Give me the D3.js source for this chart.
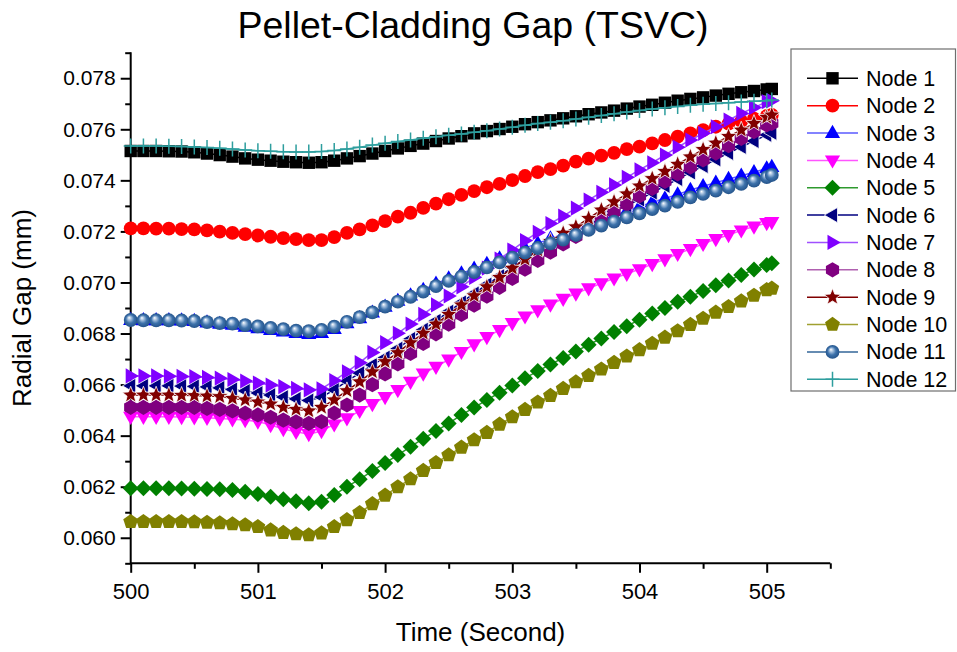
<!DOCTYPE html>
<html>
<head>
<meta charset="utf-8">
<script src="https://cdn.jsdelivr.net/npm/d3@7"></script>
<style>
  html, body { margin: 0; padding: 0; background: #fff; }
  svg { display: block; }
  text { font-family: Arial, "Liberation Sans", sans-serif; fill: #000; }
</style>
</head>
<body>
<svg id="chart" width="957" height="652"></svg>
<script>
// Time stamps (s): 0.1 s steps from 500.0 to 505.0, plus the final step
const times = d3.range(0, 51).map(i => 500 + i / 10).concat([505.04]);

// Radial gap per axial node, in units of 1e-5 mm
const node1 = [7515,7515,7515,7514,7513,7510,7505,7499,7493,7486,7481,7477,7473,7471,7469,7471,7477,7486,7495,7505,7515,7525,7535,7544,7554,7564,7573,7584,7593,7601,7610,7620,7628,7635,7643,7651,7659,7666,7673,7681,7689,7696,7704,7712,7719,7725,7732,7739,7745,7750,7756,7758];
const node2 = [7212,7212,7211,7211,7209,7208,7204,7199,7194,7189,7184,7179,7174,7170,7166,7166,7178,7194,7208,7224,7240,7258,7273,7292,7309,7326,7343,7358,7373,7386,7401,7417,7432,7444,7458,7473,7485,7497,7508,7522,7532,7545,7558,7571,7584,7597,7610,7622,7632,7642,7652,7656];
const node3 = [6853,6852,6852,6852,6851,6849,6843,6838,6834,6827,6821,6814,6808,6802,6798,6802,6818,6840,6860,6882,6905,6928,6949,6971,6995,7016,7035,7054,7073,7094,7113,7134,7153,7172,7188,7207,7228,7246,7262,7280,7297,7314,7329,7345,7362,7377,7391,7405,7418,7432,7447,7452];
const node4 = [6474,6474,6474,6474,6473,6472,6470,6467,6464,6461,6455,6442,6426,6415,6406,6418,6444,6468,6497,6524,6551,6579,6611,6643,6670,6698,6728,6758,6786,6814,6841,6867,6891,6914,6936,6957,6977,6997,7016,7034,7052,7072,7091,7112,7131,7151,7170,7186,7204,7219,7233,7237];
const node5 = [6194,6194,6194,6194,6193,6192,6191,6190,6187,6180,6171,6161,6151,6143,6135,6141,6168,6200,6229,6262,6293,6324,6357,6388,6418,6448,6481,6510,6540,6568,6596,6625,6653,6679,6704,6730,6756,6781,6806,6829,6854,6878,6900,6924,6944,6967,6989,7008,7029,7051,7068,7075];
const node6 = [6595,6595,6595,6595,6594,6593,6591,6587,6581,6575,6567,6559,6551,6544,6538,6551,6579,6614,6645,6677,6706,6741,6779,6815,6850,6886,6922,6957,6992,7025,7059,7092,7123,7151,7174,7198,7225,7253,7278,7302,7325,7352,7378,7405,7431,7456,7482,7507,7531,7554,7578,7586];
const node7 = [6634,6634,6634,6633,6632,6631,6628,6625,6620,6614,6606,6598,6592,6585,6579,6583,6616,6650,6686,6726,6764,6801,6837,6875,6912,6947,6983,7020,7056,7092,7127,7164,7196,7231,7260,7291,7323,7353,7382,7412,7441,7469,7499,7530,7558,7584,7610,7636,7662,7685,7708,7712];
const node8 = [6511,6511,6511,6511,6511,6511,6507,6503,6497,6488,6481,6472,6461,6454,6448,6455,6488,6520,6559,6600,6642,6681,6722,6761,6799,6837,6875,6911,6946,6981,7016,7052,7086,7119,7151,7180,7211,7245,7277,7307,7339,7368,7396,7425,7452,7480,7507,7536,7564,7591,7617,7623];
const node9 = [6559,6559,6559,6559,6558,6557,6555,6553,6546,6540,6532,6524,6511,6503,6497,6511,6540,6576,6611,6650,6690,6725,6764,6801,6837,6875,6912,6948,6983,7020,7056,7091,7127,7161,7193,7218,7251,7284,7316,7347,7378,7407,7435,7463,7492,7521,7546,7572,7597,7623,7647,7656];
const node10 = [6063,6063,6063,6063,6063,6062,6060,6058,6054,6050,6043,6030,6020,6015,6011,6018,6043,6070,6098,6133,6166,6199,6230,6263,6294,6324,6354,6383,6412,6444,6473,6502,6531,6557,6584,6610,6635,6660,6686,6711,6736,6761,6785,6810,6835,6859,6883,6905,6927,6949,6971,6977];
const node11 = [6853,6852,6852,6852,6851,6849,6845,6841,6839,6833,6828,6822,6817,6811,6809,6814,6827,6846,6864,6883,6905,6925,6944,6964,6986,7006,7023,7041,7059,7079,7097,7117,7135,7153,7168,7186,7206,7223,7238,7255,7271,7287,7301,7316,7333,7347,7360,7373,7386,7399,7413,7421];
const node12 = [7535,7535,7535,7534,7533,7531,7529,7526,7523,7519,7516,7514,7512,7511,7511,7513,7517,7523,7530,7538,7545,7552,7558,7565,7571,7577,7582,7588,7594,7601,7608,7616,7623,7628,7633,7640,7647,7654,7661,7668,7674,7679,7684,7689,7694,7698,7701,7704,7707,7710,7712,7715];

const seriesNames = ["Node 1","Node 2","Node 3","Node 4","Node 5","Node 6","Node 7","Node 8","Node 9","Node 10","Node 11","Node 12"];
const seriesValues = [node1,node2,node3,node4,node5,node6,node7,node8,node9,node10,node11,node12];

const xTicks = [500, 501, 502, 503, 504, 505];
const yTicks = [0.060, 0.062, 0.064, 0.066, 0.068, 0.070, 0.072, 0.074, 0.076, 0.078];

// Marker fill, connecting line colour, marker shape, marker edge
const styles = [
  { fill: "#000000", line: "#000000", shape: "square" },
  { fill: "#ff0000", line: "#ff0000", shape: "circle" },
  { fill: "#0000ff", line: "#5a5aff", shape: "triUp" },
  { fill: "#ff00ff", line: "#ff55ff", shape: "triDown" },
  { fill: "#008000", line: "#2e9a2e", shape: "diamond" },
  { fill: "#000080", line: "#000080", shape: "triLeft", edge: "#ffffff" },
  { fill: "#8000ff", line: "#a050ff", shape: "triRight" },
  { fill: "#800080", line: "#b060b0", shape: "hexagon" },
  { fill: "#800000", line: "#800000", shape: "star", edge: "#ffffff" },
  { fill: "#808000", line: "#a0a030", shape: "pentagon" },
  { fill: "url(#sphere)", line: "#336699", shape: "circle" },
  { fill: "none", line: "#2e9e9e", shape: "plus", stroke: "#2e9e9e" }
];

const svg = d3.select("#chart");
const margin = { left: 130.7, right: 957 - 830.3, top: 52.7, bottom: 652 - 563.3 };
const W = 957 - margin.left - margin.right;
const H = 652 - margin.top - margin.bottom;

const x = d3.scaleLinear().domain([500, 505.5]).range([margin.left, margin.left + W]);
const y = d3.scaleLinear().domain([0.059, 0.079]).range([margin.top + H, margin.top]);

// Shaded sphere marker
const defs = svg.append("defs");
const grad = defs.append("radialGradient").attr("id", "sphere")
  .attr("cx", "0.5").attr("cy", "0.5").attr("r", "0.5")
  .attr("fx", "0.38").attr("fy", "0.32");
grad.append("stop").attr("offset", "0").attr("stop-color", "#ffffff");
grad.append("stop").attr("offset", "0.25").attr("stop-color", "#a9c3e0");
grad.append("stop").attr("offset", "0.6").attr("stop-color", "#3d72ab");
grad.append("stop").attr("offset", "1").attr("stop-color", "#24538a");

function polygon(n, r, rot) {
  const pts = d3.range(n).map(k => {
    const a = rot + k * 2 * Math.PI / n;
    return [r * Math.cos(a), r * Math.sin(a)];
  });
  return "M" + pts.map(p => p[0].toFixed(2) + "," + p[1].toFixed(2)).join("L") + "Z";
}
function starPath(ro, ri) {
  const pts = d3.range(10).map(k => {
    const a = -Math.PI / 2 + k * Math.PI / 5;
    const r = k % 2 ? ri : ro;
    return [r * Math.cos(a), r * Math.sin(a)];
  });
  return "M" + pts.map(p => p[0].toFixed(2) + "," + p[1].toFixed(2)).join("L") + "Z";
}
const shapes = {
  square: "M-6.2,-6.2H6.2V6.2H-6.2Z",
  circle: d3.symbol(d3.symbolCircle, Math.PI * 6.9 * 6.9)(),
  triUp: "M0,-8.2L7.6,5L-7.6,5Z",
  triDown: "M0,8.2L7.6,-5L-7.6,-5Z",
  triLeft: "M-8.2,0L5,-7.6L5,7.6Z",
  triRight: "M8.2,0L-5,-7.6L-5,7.6Z",
  diamond: "M0,-8L8,0L0,8L-8,0Z",
  hexagon: polygon(6, 7.6, -Math.PI / 2),
  pentagon: polygon(5, 7.8, -Math.PI / 2),
  star: starPath(8.8, 3.8),
  plus: "M-7,0H7M0,-7.5V7.5"
};

// Axes: left and bottom only, outward ticks
const gx = svg.append("g").attr("transform", `translate(0,${margin.top + H})`);
gx.call(d3.axisBottom(x).tickValues(xTicks).tickFormat(d3.format("d")).tickSize(9.5).tickPadding(11));
gx.append("g").call(d3.axisBottom(x).tickValues(d3.range(500.5, 505.6, 1)).tickSize(5.5).tickFormat(""));
const gy = svg.append("g").attr("transform", `translate(${margin.left},0)`);
gy.call(d3.axisLeft(y).tickValues(yTicks).tickFormat(d3.format(".3f")).tickSize(10).tickPadding(5));
gy.append("g").call(d3.axisLeft(y).tickValues(d3.range(0.059, 0.0795, 0.002)).tickSize(5.5).tickFormat(""));
svg.selectAll(".domain").remove();
svg.selectAll(".tick line").attr("stroke", "#000").attr("stroke-width", 2);
gx.selectAll(".tick text").style("font-size", "22px").attr("fill", "#000");
gy.selectAll(".tick text").style("font-size", "21px").attr("fill", "#000");
svg.append("line").attr("x1", margin.left).attr("x2", margin.left + W)
  .attr("y1", margin.top + H).attr("y2", margin.top + H).attr("stroke", "#000").attr("stroke-width", 2);
svg.append("line").attr("x1", margin.left).attr("x2", margin.left)
  .attr("y1", margin.top - 0.5).attr("y2", margin.top + H + 1).attr("stroke", "#000").attr("stroke-width", 2);

// Series: connecting line then markers, plot by plot
const plotArea = svg.append("g");
seriesValues.forEach((vals, si) => {
  const st = styles[si];
  const pts = vals.map((v, i) => [times[i], v * 1e-5]);
  const g = plotArea.append("g").attr("class", "series");
  g.append("path")
    .attr("d", d3.line().x(d => x(d[0])).y(d => y(d[1]))(pts))
    .attr("fill", "none").attr("stroke", st.line).attr("stroke-width", 1.5);
  g.selectAll("path.m").data(pts).join("path").attr("class", "m")
    .attr("transform", d => `translate(${x(d[0])},${y(d[1])})`)
    .attr("d", shapes[st.shape])
    .attr("fill", st.fill)
    .attr("stroke", st.shape === "plus" ? st.stroke : (st.edge || "none"))
    .attr("stroke-width", st.shape === "plus" ? 1.5 : (st.edge ? 0.8 : 0));
});

// Title and axis titles
svg.append("text").attr("x", 473).attr("y", 38).attr("text-anchor", "middle")
  .style("font-size", "37.5px").text("Pellet-Cladding Gap (TSVC)");
svg.append("text").attr("x", (margin.left + margin.left + W) / 2).attr("y", 641)
  .attr("text-anchor", "middle").style("font-size", "26px").text("Time (Second)");
svg.append("text").attr("transform", `translate(31,${margin.top + H / 2}) rotate(-90)`)
  .attr("text-anchor", "middle").style("font-size", "26px").text("Radial Gap (mm)");

// Legend
const lg = svg.append("g");
lg.append("rect").attr("x", 791).attr("y", 49).attr("width", 164.5).attr("height", 342)
  .attr("fill", "#fff").attr("stroke", "#6e6e6e").attr("stroke-width", 1.2);
seriesNames.forEach((name, i) => {
  const st = styles[i];
  const cy = 78.3 + i * 27.36;
  lg.append("line").attr("x1", 807).attr("x2", 858).attr("y1", cy).attr("y2", cy)
    .attr("stroke", st.line).attr("stroke-width", 1.5);
  lg.append("path").attr("transform", `translate(832.5,${cy})`).attr("d", shapes[st.shape])
    .attr("fill", st.fill)
    .attr("stroke", st.shape === "plus" ? st.stroke : (st.edge || "none"))
    .attr("stroke-width", st.shape === "plus" ? 1.5 : (st.edge ? 0.8 : 0));
  lg.append("text").attr("x", 866).attr("y", cy + 7.5).style("font-size", "21.5px").text(name);
});
</script>
</body>
</html>
